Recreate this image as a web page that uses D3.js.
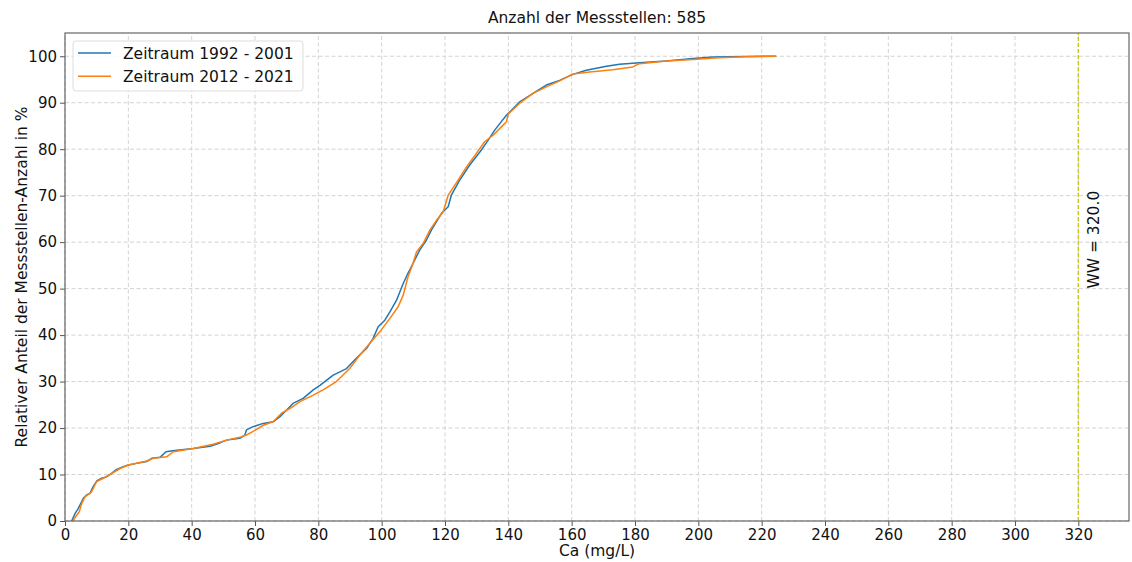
<!DOCTYPE html>
<html>
<head>
<meta charset="utf-8">
<script src="https://cdn.jsdelivr.net/npm/d3@7"></script>
<style>
  html, body { margin: 0; padding: 0; background: #fff; }
  svg { display: block; font-family: "DejaVu Sans", sans-serif; }
</style>
</head>
<body>
<svg id="chart" width="1132" height="562"></svg>
<script>
// Cumulative share of monitoring sites (%) against calcium concentration (mg/L)
const seriesNames = ["Zeitraum 1992 - 2001", "Zeitraum 2012 - 2021"];
const seriesColors = ["#1f77b4", "#ff7f0e"];

const caEarly = [2.1, 3.2, 4.2, 5.8, 6.8, 7.9, 8.9, 10.0, 11.6, 13.1, 14.7, 16.3, 18.4, 20.0, 22.6, 25.8, 27.4, 30.0, 31.9, 34.0,
  40.5, 45.8, 48.9, 51.0, 55.2, 56.8, 57.3, 59.4, 62.6, 65.7, 67.8, 70.0, 72.0, 75.2, 78.4, 80.5, 84.7, 88.9, 92.0, 95.2,
  97.3, 98.9, 101.0, 102.6, 104.7, 106.8, 108.3, 109.9, 112.0, 114.1, 115.7, 118.9, 121.0, 122.0, 124.6, 127.8, 131.0, 133.6, 135.7, 137.3,
  139.4, 140.0, 143.6, 147.8, 152.0, 156.2, 160.4, 164.6, 171.0, 175.1, 181.4, 189.9, 198.3, 204.6, 215.0, 224.6];
const pctEarly = [0, 1.65, 2.7, 4.9, 5.6, 5.95, 7.4, 8.6, 9.2, 9.5, 10.25, 11.1, 11.7, 12.05, 12.4, 12.8, 13.5, 13.7, 14.9, 15.1,
  15.6, 16.1, 16.8, 17.4, 17.8, 18.5, 19.6, 20.3, 21.0, 21.35, 22.4, 23.9, 25.3, 26.4, 28.2, 29.2, 31.4, 32.8, 35.0, 37.1,
  39.3, 41.8, 43.2, 45.0, 47.5, 51.1, 53.3, 55.4, 58.3, 60.4, 62.6, 66.2, 67.6, 70.1, 73.3, 76.6, 79.4, 81.9, 84.1, 85.5,
  87.3, 87.7, 90.2, 92.0, 93.8, 94.8, 96.1, 97.0, 97.85, 98.3, 98.6, 99.0, 99.5, 99.85, 99.95, 100];

const caLate = [2.4, 4.5, 5.3, 6.3, 8.4, 10.0, 12.1, 15.2, 17.4, 20.0, 25.8, 27.9, 32.1, 34.2, 40.5, 46.8, 51.0, 55.2, 57.3, 60.5,
  62.6, 65.7, 68.4, 71.0, 74.2, 78.4, 81.5, 85.7, 89.9, 93.1, 96.2, 99.4, 102.6, 105.2, 106.8, 108.3, 109.9, 111.0, 113.1, 115.2,
  117.3, 119.4, 121.0, 124.1, 126.8, 129.9, 132.5, 135.2, 137.8, 139.4, 140.0, 143.6, 147.8, 152.0, 156.2, 160.4, 165.7, 173.0, 179.3, 181.4,
  189.9, 198.3, 206.7, 215.0, 224.6];
const pctLate = [0, 2.0, 3.8, 5.2, 6.3, 8.5, 9.2, 10.4, 11.3, 12.05, 12.9, 13.5, 13.8, 14.9, 15.6, 16.5, 17.4, 18.0, 18.5, 19.7,
  20.6, 21.35, 23.2, 24.2, 25.7, 27.1, 28.2, 30.0, 32.8, 35.7, 38.2, 40.7, 43.6, 46.1, 48.6, 52.5, 55.4, 57.9, 59.7, 62.6,
  64.7, 66.5, 70.1, 73.3, 76.2, 79.1, 81.6, 83.0, 84.8, 85.9, 87.6, 89.9, 92.0, 93.4, 94.7, 96.2, 96.6, 97.1, 97.7, 98.4,
  98.95, 99.3, 99.7, 99.9, 100];

const xTicks = d3.range(0, 321, 20);
const yTicks = d3.range(0, 101, 10);
const limitValue = 320.0;
const titleText = "Anzahl der Messstellen: 585";
const xLabel = "Ca (mg/L)";
const yLabel = "Relativer Anteil der Messstellen-Anzahl in %";

const W = 1132, H = 562;
const margin = { top: 33, right: 3, bottom: 41, left: 65 };
const svg = d3.select("#chart");

const x = d3.scaleLinear().domain([0, 336]).range([margin.left, W - margin.right]);
const y = d3.scaleLinear().domain([0, 105]).range([H - margin.bottom, margin.top]);

// grid
const grid = svg.append("g").attr("stroke", "#d3d3d3").attr("stroke-width", 1).attr("stroke-dasharray", "4,2.5");
grid.selectAll("line.vx").data(xTicks).join("line")
  .attr("x1", d => x(d)).attr("x2", d => x(d))
  .attr("y1", y.range()[0]).attr("y2", y.range()[1]);
grid.selectAll("line.hy").data(yTicks).join("line")
  .attr("y1", d => y(d)).attr("y2", d => y(d))
  .attr("x1", x.range()[0]).attr("x2", x.range()[1]);

// limit value marker
svg.append("line")
  .attr("x1", x(limitValue)).attr("x2", x(limitValue))
  .attr("y1", y.range()[0]).attr("y2", y.range()[1])
  .attr("stroke", "#c8c820").attr("stroke-width", 1.4).attr("stroke-dasharray", "4,2");

svg.append("text")
  .attr("transform", `translate(${x(limitValue) + 21},${y(50)}) rotate(-90)`)
  .attr("font-size", 15.5).attr("fill", "#111")
  .text("WW = " + limitValue.toFixed(1));

// curves
const line = d3.line().x(d => x(d[0])).y(d => y(d[1]));
const series = [
  d3.zip(caEarly, pctEarly),
  d3.zip(caLate, pctLate)
];
series.forEach((pts, i) => {
  svg.append("path").datum(pts)
    .attr("d", line)
    .attr("fill", "none")
    .attr("stroke", seriesColors[i])
    .attr("stroke-width", 1.5)
    .attr("stroke-linejoin", "round");
});

// axes
const xAxis = d3.axisBottom(x).tickValues(xTicks).tickSize(5).tickPadding(3).tickFormat(d3.format("d"));
const yAxis = d3.axisLeft(y).tickValues(yTicks).tickSize(5).tickPadding(3).tickFormat(d3.format("d"));
const gx = svg.append("g").attr("transform", `translate(0,${y.range()[0]})`).call(xAxis);
const gy = svg.append("g").attr("transform", `translate(${x.range()[0]},0)`).call(yAxis);
[gx, gy].forEach(g => {
  g.select(".domain").remove();
  g.selectAll(".tick line").attr("stroke", "#555");
  g.selectAll(".tick text").attr("font-size", 15).attr("font-family", "DejaVu Sans").attr("fill", "#111");
});

// frame
svg.append("rect")
  .attr("x", x.range()[0]).attr("y", y.range()[1])
  .attr("width", x.range()[1] - x.range()[0])
  .attr("height", y.range()[0] - y.range()[1])
  .attr("fill", "none").attr("stroke", "#666").attr("stroke-width", 1.2);

// title and axis labels
svg.append("text").attr("x", (x.range()[0] + x.range()[1]) / 2).attr("y", 23)
  .attr("text-anchor", "middle").attr("font-size", 15.5).attr("fill", "#111").text(titleText);
svg.append("text").attr("x", (x.range()[0] + x.range()[1]) / 2).attr("y", 556)
  .attr("text-anchor", "middle").attr("font-size", 15.5).attr("fill", "#111").text(xLabel);
svg.append("text")
  .attr("transform", `translate(27,${(y.range()[0] + y.range()[1]) / 2}) rotate(-90)`)
  .attr("text-anchor", "middle").attr("font-size", 15.5).attr("fill", "#111").text(yLabel);

// legend
const lg = svg.append("g").attr("transform", "translate(73,41)");
lg.append("rect").attr("width", 230).attr("height", 50).attr("rx", 3)
  .attr("fill", "#fff").attr("fill-opacity", 0.85).attr("stroke", "#ddd");
seriesNames.forEach((name, i) => {
  const cy = 12 + i * 23.3;
  lg.append("line").attr("x1", 5).attr("x2", 38).attr("y1", cy).attr("y2", cy)
    .attr("stroke", seriesColors[i]).attr("stroke-width", 1.5);
  lg.append("text").attr("x", 50).attr("y", cy + 5.6)
    .attr("font-size", 15.5).attr("fill", "#111").text(name);
});
</script>
</body>
</html>
